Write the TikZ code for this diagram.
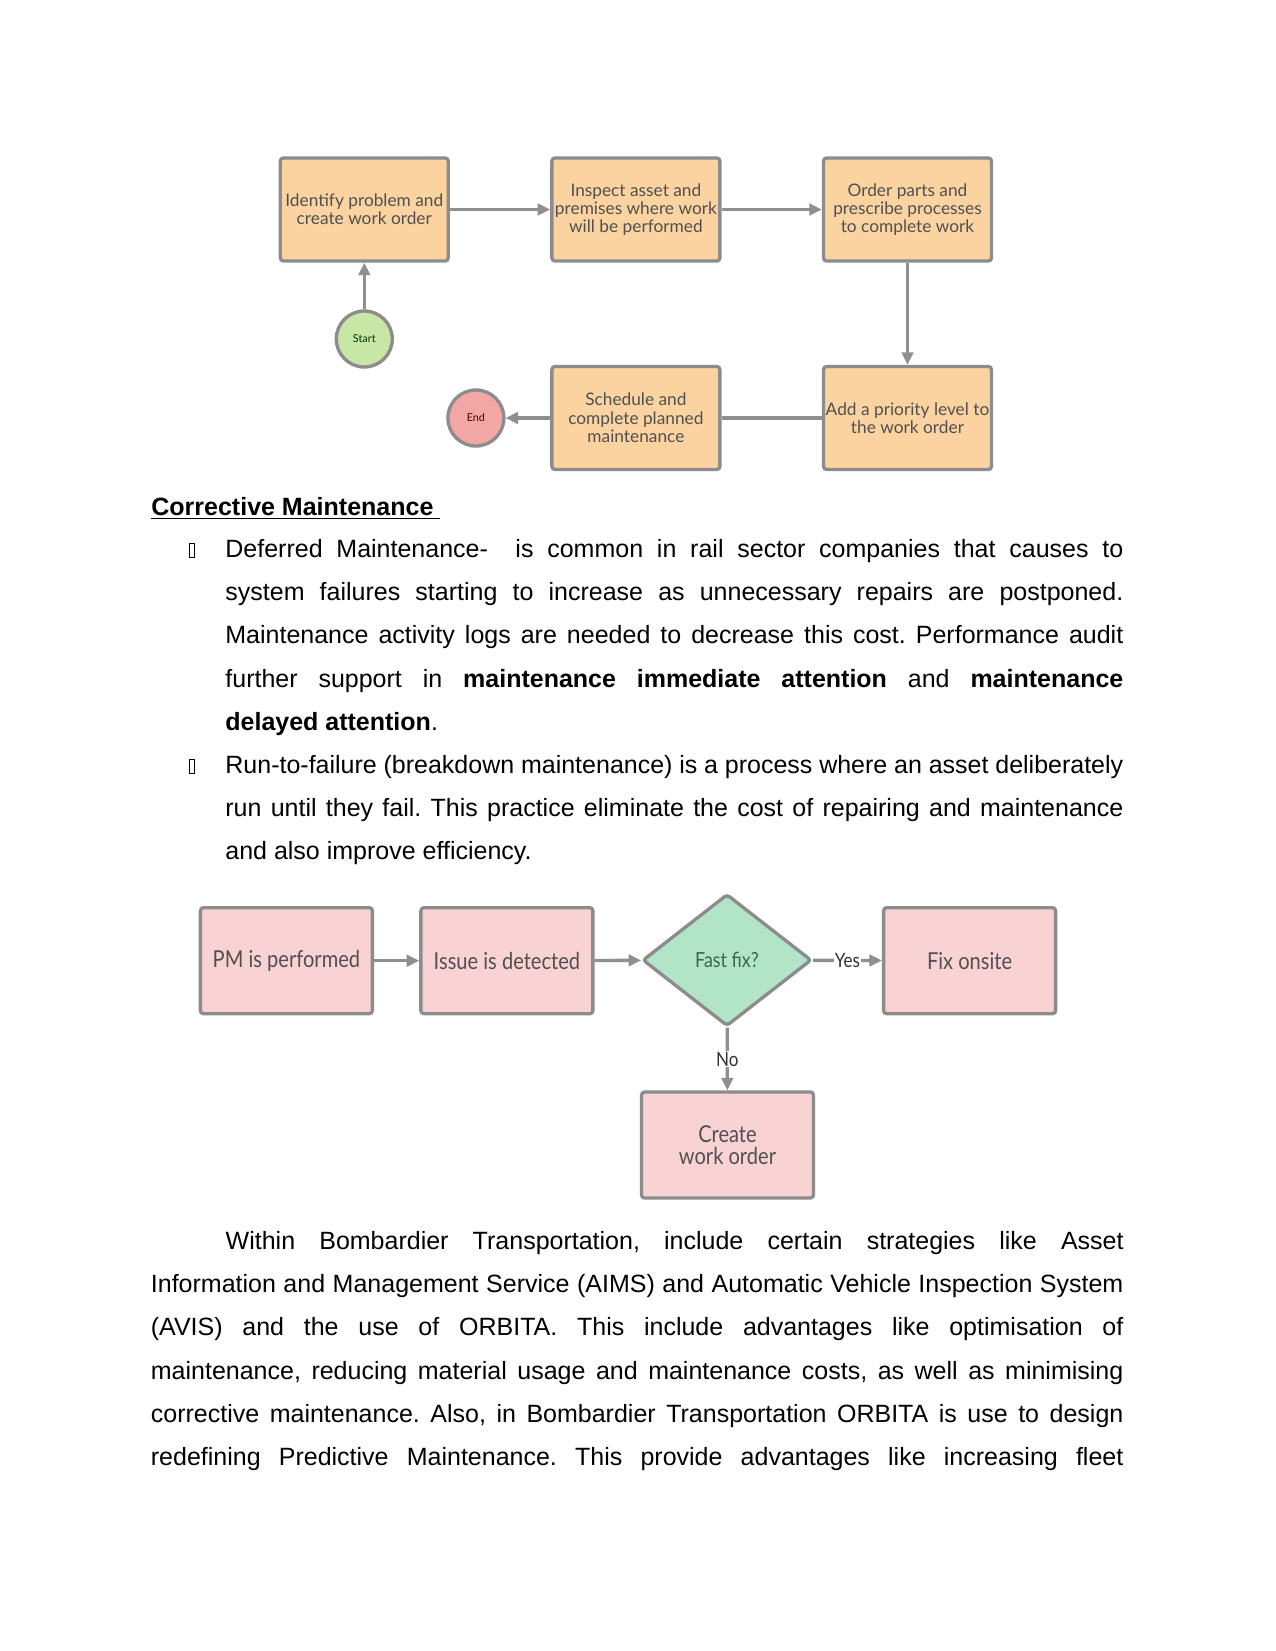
\documentclass[tikz,border=0pt]{standalone}
\usepackage{fontspec}
\setmainfont{Liberation Sans}
\newfontfamily\diagfont{Lato}
\newfontfamily\diagfontN[FakeStretch=0.86]{Lato}
\usetikzlibrary{arrows.meta,shapes.geometric}
\definecolor{peach}{HTML}{FAD3A0}
\definecolor{bordergray}{HTML}{8C8C8C}
\definecolor{arrowgray}{HTML}{8F8F8F}
\definecolor{startgreen}{HTML}{C8E6A5}
\definecolor{endpink}{HTML}{F3A7A4}
\definecolor{boxpink}{HTML}{F9D2D4}
\definecolor{mint}{HTML}{B2E5C8}
\definecolor{diagtext}{HTML}{505050}
\definecolor{fastgreen}{HTML}{3F6450}
\tikzset{
  flowbox/.style={draw=bordergray, line width=1.6pt, rounded corners=1.5pt, fill=peach,
    minimum width={168*0.48pt}, minimum height={103*0.48pt}, align=center, inner sep=0.5pt,
    text=diagtext, font=\diagfont\fontsize{8.3}{8.8}\selectfont},
  termc/.style={circle, draw=bordergray, line width=1.6pt, minimum size={56*0.48pt}, inner sep=0pt,
    font=\diagfont\fontsize{5.2}{6}\selectfont},
  pinkbox/.style={draw=bordergray, line width=1.6pt, rounded corners=1.5pt, fill=boxpink,
    minimum width={172*0.48pt}, minimum height={106*0.48pt}, align=center, inner sep=0.5pt,
    text=diagtext, font=\diagfontN\fontsize{11.2}{10.5}\selectfont},
  decide/.style={diamond, draw=bordergray, line width=1.6pt, rounded corners=1.5pt, fill=mint,
    aspect=1.28, minimum width={169*0.48pt}, minimum height={132*0.48pt}, inner sep=0pt,
    text=fastgreen, font=\diagfontN\fontsize{10}{10}\selectfont},
  conn/.style={draw=arrowgray, line width=1.6pt, -{Triangle[length=6pt,width=5.5pt]}},
  plainconn/.style={draw=arrowgray, line width=1.6pt},
  edgelabel/.style={fill=white, inner sep=0.3pt, text=black!80, font=\diagfontN\fontsize{9.5}{10}\selectfont},
  bodyline/.style={anchor=base west, inner sep=0pt, font=\fontsize{12}{14}\selectfont\frenchspacing},
}
\begin{document}
\frenchspacing
\begin{tikzpicture}[x=0.48pt,y=-0.48pt]
\fill[white] (0,0) rectangle (1275,1651);
\useasboundingbox (0,0) rectangle (1275,1651);

% ---- top flowchart ----
\node[flowbox] (b1) at (364.3,209.5) {Identify problem and\\create work order};
\node[flowbox] (b2) at (635.9,209.5) {Inspect asset and\\premises where work\\will be performed};
\node[flowbox] (b3) at (907.5,209.5) {Order parts and\\prescribe processes\\to complete work};
\node[flowbox] (b4) at (635.9,418) {Schedule and\\complete planned\\maintenance};
\node[flowbox] (b5) at (907.5,418) {Add a priority level to\\the work order};
\node[termc, fill=startgreen, text=black!80!green] (start) at (364.3,339) {Start};
\node[termc, fill=endpink, text=black!70!red] (endc) at (475.9,418) {End};
\draw[conn] (start) -- (b1);
\draw[conn] (b1) -- (b2);
\draw[conn] (b2) -- (b3);
\draw[conn] (b3) -- (b5);
\draw[plainconn] (b5) -- (b4);
\draw[conn] (b4) -- (endc);

% ---- heading and bullets ----
\node[bodyline, font=\fontsize{12}{14}\selectfont\bfseries] (head) at (151,515) {\underline{Corrective Maintenance\ }};
\draw[line width=0.4pt] (189,543) rectangle (194,557);
\node[bodyline] (l1) at (225,557.5) {\makebox[431pt][s]{Deferred Maintenance-\ \ is common in rail sector companies that causes to}};
\node[bodyline] (l2) at (225,600.7) {\makebox[431pt][s]{system failures starting to increase as unnecessary repairs are postponed.}};
\node[bodyline] (l3) at (225,643.8) {\makebox[431pt][s]{Maintenance activity logs are needed to decrease this cost. Performance audit}};
\node[bodyline] (l4) at (225,687.0) {\makebox[431pt][s]{further support in \textbf{maintenance immediate attention} and \textbf{maintenance}}};
\node[bodyline] (l5) at (225,730.2) {\textbf{delayed attention}.};
\draw[line width=0.4pt] (189,759) rectangle (194,773);
\node[bodyline] (l6) at (225,773.4) {\makebox[431pt][s]{Run-to-failure (breakdown maintenance) is a process where an asset deliberately}};
\node[bodyline] (l7) at (225,816.5) {\makebox[431pt][s]{run until they fail. This practice eliminate the cost of repairing and maintenance}};
\node[bodyline] (l8) at (225,859.7) {and also improve efficiency.};

% ---- bottom flowchart ----
\node[pinkbox] (pm) at (286.4,960.7) {PM is performed};
\node[pinkbox] (issue) at (506.9,960.7) {Issue is detected};
\node[decide] (fast) at (727,960.1) {Fast fix?};
\node[pinkbox] (fix) at (969.6,960.7) {Fix onsite};
\node[pinkbox] (create) at (727.5,1145) {Create\\work order};
\draw[conn] (pm) -- (issue);
\draw[conn] (issue) -- (fast);
\draw[conn] (fast) -- (fix) node[edgelabel, pos=0.5] {Yes};
\draw[conn] (fast) -- (create) node[edgelabel, pos=0.5] {No};

% ---- paragraph ----
\node[bodyline] (p1) at (225.3,1249.5) {\makebox[431pt][s]{Within Bombardier Transportation, include certain strategies like Asset}};
\node[bodyline] (p2) at (150.5,1292.7) {\makebox[466.8pt][s]{Information and Management Service (AIMS) and Automatic Vehicle Inspection System}};
\node[bodyline] (p3) at (150.5,1335.8) {\makebox[466.8pt][s]{(AVIS) and the use of ORBITA. This include advantages like optimisation of}};
\node[bodyline] (p4) at (150.5,1379.0) {\makebox[466.8pt][s]{maintenance, reducing material usage and maintenance costs, as well as minimising}};
\node[bodyline] (p5) at (150.5,1422.2) {\makebox[466.8pt][s]{corrective maintenance. Also, in Bombardier Transportation ORBITA is use to design}};
\node[bodyline] (p6) at (150.5,1465.3) {\makebox[466.8pt][s]{redefining Predictive Maintenance. This provide advantages like increasing fleet}};
\end{tikzpicture}
\end{document}
